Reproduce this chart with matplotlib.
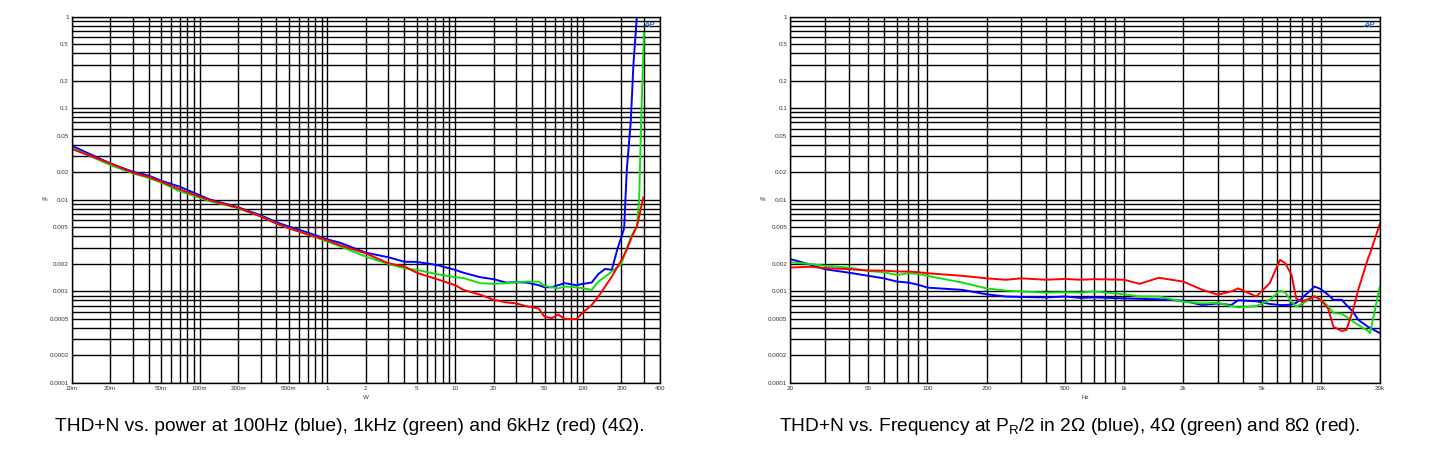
import numpy as np
import matplotlib
matplotlib.use("Agg")
import matplotlib.pyplot as plt
from matplotlib.ticker import FixedLocator, FixedFormatter, NullFormatter

plt.rcParams['font.family'] = ['Liberation Sans', 'DejaVu Sans']

# --- THD+N vs power (W, %) ---
power = [0.01, 0.02, 0.03, 0.04, 0.05, 0.07, 0.12, 0.2, 0.3, 0.4, 0.5, 0.7, 1.0, 1.26,
         2, 3, 4, 5, 7.1, 10, 11.6, 15.7, 20, 25, 30, 36, 45, 50, 57, 64, 72, 89, 100,
         117, 132, 149, 168]
thd_100hz = [0.039, 0.025, 0.0203, 0.0184, 0.0162, 0.0139, 0.0101, 0.0083, 0.0068, 0.0057,
             0.0051, 0.0044, 0.0037, 0.0034, 0.00265, 0.00236, 0.00211, 0.0021, 0.00195,
             0.00172, 0.0016, 0.00143, 0.00136, 0.00125, 0.00126, 0.00125, 0.00117, 0.00111,
             0.00111, 0.00117, 0.00123, 0.00117, 0.00121, 0.00125, 0.00155, 0.00176, 0.00172]
thd_1khz = [0.037, 0.024, 0.0195, 0.0173, 0.0155, 0.0124, 0.0097, 0.0081, 0.0066, 0.0055,
            0.0049, 0.0042, 0.0035, 0.0031, 0.0024, 0.002, 0.00179, 0.00172, 0.00155,
            0.00143, 0.0014, 0.00123, 0.00121, 0.00123, 0.00126, 0.00128, 0.00128, 0.00115,
            0.00111, 0.00108, 0.00113, 0.00111, 0.00108, 0.00104, 0.00128, 0.00145, 0.00165]
thd_6khz = [0.036, 0.025, 0.0198, 0.0178, 0.0158, 0.013, 0.0099, 0.0082, 0.0066, 0.0055,
            0.0049, 0.0042, 0.0036, 0.0032, 0.0026, 0.00203, 0.00187, 0.0016, 0.00137,
            0.00117, 0.00104, 0.00092, 0.00081, 0.00076, 0.00074, 0.00069, 0.00065, 0.00053,
            0.00051, 0.00056, 0.0005, 0.0005, 0.00059, 0.00071, 0.00088, 0.00113, 0.00145]
# clipping tails
tail_p_100hz = [186, 204, 210, 220, 237, 248, 264, 272]
tail_100hz = [0.0029, 0.0043, 0.0049, 0.021, 0.075, 0.3, 1.0, 1.5]
tail_p_1khz = [200, 217, 241, 264, 275, 285, 300]
tail_1khz = [0.002, 0.00284, 0.0041, 0.0052, 0.01, 0.07, 0.66]
tail_p_6khz = [200, 220, 240, 264, 297]
tail_6khz = [0.0022, 0.00284, 0.0039, 0.0051, 0.0107]

# --- THD+N vs frequency (Hz, %) ---
freq = [20, 25, 30, 40, 50, 60, 70, 80, 90, 100, 150, 200, 250, 300, 400, 500, 600, 700,
        1000, 1200, 1500, 2000, 2500, 3000, 3500, 3800, 4700, 5500, 6200, 6600, 7100, 7500,
        8000, 9300, 10000, 10900, 11600, 12800, 13500, 14600, 15500, 17400, 17800, 20000]
thd_2ohm = [0.00226, 0.00198, 0.00175, 0.0016, 0.00148, 0.00139, 0.00128, 0.00125, 0.00118,
            0.0011, 0.00104, 0.00093, 0.00088, 0.00087, 0.00086, 0.00088, 0.00085, 0.00086,
            0.00084, 0.00083, 0.00082, 0.00079, 0.00071, 0.00074, 0.00071, 0.0008, 0.00078,
            0.00073, 0.00071, 0.00071, 0.00072, 0.00075, 0.00084, 0.00113, 0.00106, 0.00092,
            0.00081, 0.00081, 0.00071, 0.0006, 0.00049, 0.00041, 0.0004, 0.00035]
thd_4ohm = [0.00208, 0.002, 0.00191, 0.00182, 0.00167, 0.00162, 0.00151, 0.00158, 0.00155,
            0.00148, 0.00125, 0.00108, 0.00102, 0.001, 0.00097, 0.00098, 0.00097, 0.001,
            0.00093, 0.00088, 0.00088, 0.00077, 0.00074, 0.00075, 0.00069, 0.00067, 0.00069,
            0.00081, 0.00102, 0.00097, 0.00077, 0.00068, 0.00073, 0.00089, 0.00081, 0.00069,
            0.00058, 0.00057, 0.00053, 0.00047, 0.00043, 0.00037, 0.00035, 0.00115]
thd_8ohm = [0.00182, 0.00186, 0.0018, 0.00175, 0.00169, 0.00169, 0.00165, 0.00165, 0.00162,
            0.00158, 0.00148, 0.00139, 0.00134, 0.00139, 0.00134, 0.00137, 0.00134, 0.00136,
            0.00134, 0.00121, 0.00141, 0.00128, 0.00104, 0.00092, 0.001, 0.00108, 0.00088,
            0.00123, 0.00221, 0.00203, 0.00151, 0.00084, 0.00077, 0.00088, 0.00081, 0.00065,
            0.00041, 0.00037, 0.00038, 0.00063, 0.00104, 0.0023, 0.0026, 0.0055]

y_ticks = [0.0001, 0.0002, 0.0005, 0.001, 0.002, 0.005, 0.01, 0.02, 0.05, 0.1, 0.2, 0.5, 1]
y_labels = ['0.0001', '0.0002', '0.0005', '0.001', '0.002', '0.005', '0.01', '0.02',
            '0.05', '0.1', '0.2', '0.5', '1']
p_ticks = [0.01, 0.02, 0.05, 0.1, 0.2, 0.5, 1, 2, 5, 10, 20, 50, 100, 200, 400]
p_labels = ['10m', '20m', '50m', '100m', '200m', '500m', '1', '2', '5', '10', '20', '50',
            '100', '200', '400']
f_ticks = [20, 50, 100, 200, 500, 1000, 2000, 5000, 10000, 20000]
f_labels = ['20', '50', '100', '200', '500', '1k', '2k', '5k', '10k', '20k']

BLUE = '#0000ff'
GREEN = '#10e010'
RED = '#ff0000'


def minor_positions(lo, hi):
    pos = []
    for e in range(-5, 6):
        for m in range(1, 10):
            v = m * 10.0 ** e
            if lo * 0.999 <= v <= hi * 1.001:
                pos.append(v)
    return pos


def setup(ax, xlo, xhi, xt, xl, xname):
    ax.set_xscale('log')
    ax.set_yscale('log')
    ax.set_xlim(xlo, xhi)
    ax.set_ylim(0.0001, 1)
    ax.xaxis.set_major_locator(FixedLocator(xt))
    ax.xaxis.set_major_formatter(FixedFormatter(xl))
    ax.xaxis.set_minor_locator(FixedLocator(minor_positions(xlo, xhi)))
    ax.xaxis.set_minor_formatter(NullFormatter())
    ax.yaxis.set_major_locator(FixedLocator(y_ticks))
    ax.yaxis.set_major_formatter(FixedFormatter(y_labels))
    ax.yaxis.set_minor_locator(FixedLocator(minor_positions(0.0001, 1)))
    ax.yaxis.set_minor_formatter(NullFormatter())
    ax.grid(which='both', color='black', lw=1.0)
    ax.tick_params(which='both', length=0, labelsize=4.5, labelcolor='#333333', pad=2)
    for s in ax.spines.values():
        s.set_color('black')
        s.set_linewidth(1.0)
    ax.set_xlabel(xname, fontsize=4.5, color='#333333', labelpad=3)
    ax.set_ylabel('%', fontsize=4.5, color='#333333', rotation=0, labelpad=4, va='center')
    ax.text(0.992, 0.985, 'AP', transform=ax.transAxes, ha='right', va='top',
            fontsize=6, color='#2a70b8', style='italic', fontweight='bold')


fig = plt.figure(figsize=(14.52, 4.5), dpi=100)
ax1 = fig.add_axes([0.0494, 0.1489, 0.4051, 0.814])
ax2 = fig.add_axes([0.5441, 0.1489, 0.4063, 0.814])

setup(ax1, 0.01, 400, p_ticks, p_labels, 'W')
setup(ax2, 20, 20000, f_ticks, f_labels, 'Hz')

ax1.plot(power + tail_p_100hz, thd_100hz + tail_100hz, color=BLUE, lw=1.4)
ax1.plot(power + tail_p_1khz, thd_1khz + tail_1khz, color=GREEN, lw=1.4)
ax1.plot(power + tail_p_6khz, thd_6khz + tail_6khz, color=RED, lw=1.4)

ax2.plot(freq, thd_2ohm, color=BLUE, lw=1.4)
ax2.plot(freq, thd_4ohm, color=GREEN, lw=1.4)
ax2.plot(freq, thd_8ohm, color=RED, lw=1.4)

fig.text(0.241, 0.053, 'THD+N vs. power at 100Hz (blue), 1kHz (green) and 6kHz (red) (4\u03a9).',
         ha='center', va='center', fontsize=13.8)
fig.text(0.737, 0.053, 'THD+N vs. Frequency at P$_\\mathregular{R}$/2 in 2\u03a9 (blue), 4\u03a9 (green) and 8\u03a9 (red).',
         ha='center', va='center', fontsize=13.8)

fig.savefig('out.png', dpi=100)
